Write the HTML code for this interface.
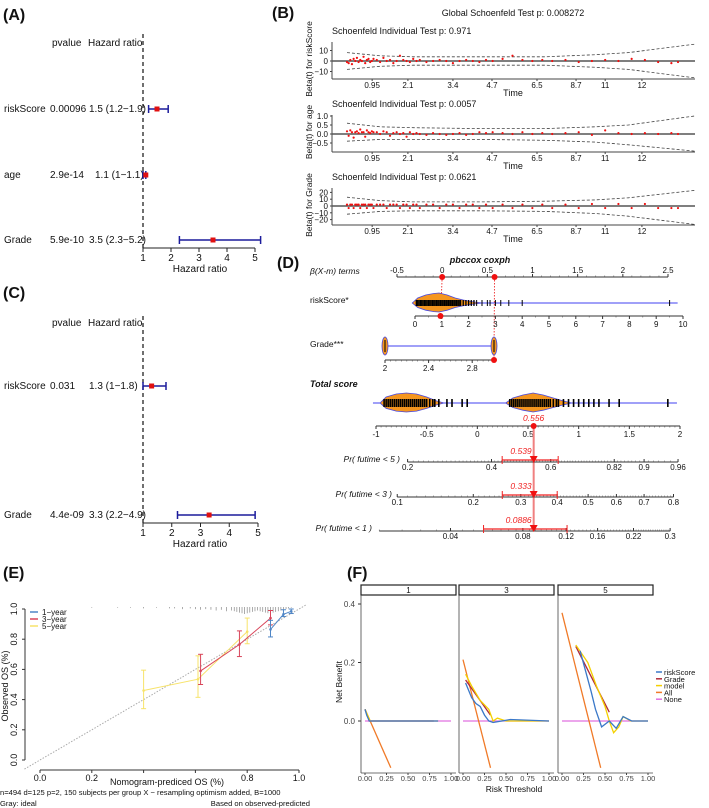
<!DOCTYPE html>
<html><head><meta charset="utf-8"><style>
html,body{margin:0;padding:0;background:#fff;}
svg{display:block;font-family:"Liberation Sans",Arial,sans-serif;}
</style></head><body>
<svg id="fig" width="709" height="808" viewBox="0 0 709 808" xmlns="http://www.w3.org/2000/svg"></svg>
<script>
// ---------- DATA ----------
// Panel A
const aVars=['riskScore','age','Grade'];
const aP=['0.00096','2.9e-14','5.9e-10'];
const aHRtxt=['1.5 (1.2\u22121.9)','1.1 (1\u22121.1)','3.5 (2.3\u22125.2)'];
const aHR=[1.5,1.1,3.5];
const aLo=[1.2,1.0,2.3];
const aHi=[1.9,1.1,5.2];
// Panel C
const cVars=['riskScore','Grade'];
const cP=['0.031','4.4e-09'];
const cHRtxt=['1.3 (1\u22121.8)','3.3 (2.2\u22124.9)'];
const cHR=[1.3,3.3];
const cLo=[1.0,2.2];
const cHi=[1.8,4.9];
const hrTicks=[1,2,3,4,5];
// Panel B
const bTickLabels=['0.95','2.1','3.4','4.7','6.5','8.7','11','12'];
const bTickRanks=[7.6,18.4,32,43.8,57.4,69.2,78,89.1];
const bRank=[0,0.5,1,1.5,2,2.5,3,3.5,4,4.5,5,5.5,6,6.5,7,7.5,8,9,10,11,12,13,14,15,16,17,18,19,20,21,22,24,26,28,30,32,34,36,38,40,42,44,47,50,53,56,59,62,66,70,74,78,82,86,90,94,98,100];
const b1Val=[-1,-2,1,-3,2,0,3,-1,1,0, 4,-2,1,2,-1,0,2,1,-1,3, 0,1,-2,0,5,1,0,-1,2,0, 1,-1,0,1,0,-2,0,1,0,-1, 1,0,2,5,1,0,1,0,1,-1, 0,1,0,2,1,-1,-2,-1];
const b2Val=[0.15,-0.1,0.2,0.1,-0.2,0.1,0.15,0.05,0.25,0.1, 0.1,-0.15,0.2,0.1,0.05,0.15,0.1,0.1,0.0,0.15, 0.1,-0.1,0.05,0.1,0.0,0.05,-0.15,0.1,0.0,0.05, 0.0,-0.05,0.05,0.0,-0.05,0.0,0.05,-0.05,0.0,0.1, 0.05,0.1,0.05,0.0,0.1,0.0,0.05,0.0,0.05,0.1, -0.05,0.2,0.05,0.0,0.05,0.0,0.05,0.0];
const b3Val=[2,-3,2,2,-3,2,2,2,-3,2, 2,2,-3,2,2,2,-3,2,2,2, -3,2,2,2,-3,2,2,-3,2,2, -3,2,2,-3,2,2,-3,2,2,-3, 2,-3,2,-3,2,-3,2,-3,2,-3, 3,-3,3,-3,3,-3,-3,-3];
const bandRank=[0,10,20,40,60,75,85,105];
const b1Up=[8,5,4,4,4,6,8,16], b1Lo=[-8,-5,-4,-4,-4,-6,-8,-16];
const b2Up=[0.6,0.4,0.35,0.3,0.3,0.4,0.5,1.0], b2Lo=[-0.4,-0.3,-0.3,-0.3,-0.35,-0.45,-0.6,-0.95];
const b3Up=[13,8,6,6,7,9,12,23], b3Lo=[-12,-8,-7,-7,-8,-11,-15,-27];
// Panel D
const betaPts=[0,0.58];
const rsGrid=[-0.1,0.1,0.4,0.7,0.9,1.2,1.5,1.8,2.1,2.5];
const rsDens=[0,5,8,9.5,10,8,5,3,1.5,0];
const rsRug=[0.05,0.1,0.15,0.2,0.25,0.3,0.35,0.4,0.45,0.5,0.55,0.6,0.65,0.7,0.75,0.8,0.85,0.9,0.95,1.0,1.05,1.1,1.15,1.2,1.25,1.3,1.35,1.4,1.45,1.5,1.55,1.6,1.65,1.7,1.8,1.9,2.0,2.1,2.2,2.3,2.5,2.7,2.8,3.0,3.2,3.5,4.0,9.5];
const t1Grid=[-0.96,-0.9,-0.8,-0.7,-0.6,-0.5,-0.45,-0.4,-0.33];
const t1Dens=[0,6,9,10,9,6,4,2,0];
const t2Grid=[0.28,0.35,0.45,0.55,0.65,0.75,0.85,0.93];
const t2Dens=[0,5,8,10,8,5,2,0];
const totRug=[-0.92,-0.9,-0.88,-0.86,-0.84,-0.82,-0.8,-0.78,-0.76,-0.74,-0.72,-0.7,-0.68,-0.66,-0.64,-0.62,-0.6,-0.58,-0.56,-0.54,-0.52,-0.5,-0.47,-0.44,-0.42,-0.38,-0.3,-0.25,-0.15,-0.1,0.32,0.34,0.36,0.38,0.4,0.42,0.44,0.46,0.48,0.5,0.52,0.54,0.56,0.58,0.6,0.62,0.64,0.66,0.68,0.7,0.72,0.75,0.78,0.8,0.85,0.9,0.95,1.0,1.05,1.1,1.15,1.2,1.3,1.4,1.88];
const totalScore=0.556;
const prNames=['Pr( futime < 5 )','Pr( futime < 3 )','Pr( futime < 1 )'];
const prValue=[0.539,0.333,0.0886];
const prValueTxt=['0.539','0.333','0.0886'];
const prCiLo=[0.433,0.257,0.055];
const prCiHi=[0.627,0.40,0.121];
const prTicks=[[0.2,0.4,0.6,0.82,0.9,0.96],[0.1,0.2,0.3,0.4,0.5,0.6,0.7,0.8],[0.04,0.08,0.12,0.16,0.22,0.3]];
const prRange=[[0.2,0.96],[0.1,0.8],[0.02,0.3]];
// Panel E
const eX1=[0.89,0.94,0.97], eY1=[0.865,0.965,0.985], eL1=[0.815,0.95,0.97], eH1=[0.925,0.995,1.0];
const eX3=[0.62,0.77,0.89], eY3=[0.59,0.765,0.94], eL3=[0.50,0.685,0.895], eH3=[0.70,0.855,0.99];
const eX5=[0.40,0.61,0.80], eY5=[0.46,0.535,0.85], eL5=[0.34,0.415,0.77], eH5=[0.595,0.69,0.94];
const eRug=[0.2,0.3,0.35,0.4,0.45,0.5,0.52,0.55,0.58,0.6,0.62,0.64,0.66,0.68,0.7,0.72,0.74,0.75,0.76,0.77,0.78,0.79,0.8,0.81,0.82,0.83,0.84,0.85,0.86,0.87,0.88,0.89,0.9,0.91,0.92,0.93,0.94,0.95,0.96,0.97];
const eRugH=[1,1,1,2,1,2,2,3,2,3,4,3,4,5,4,6,5,6,7,8,9,10,9,8,7,6,5,6,7,8,9,10,8,7,6,5,4,3,2,1];
const eXTicks=[0,0.2,0.4,0.6,0.8,1];
const eXLabels=['0.0','0.2','','','0.8','1.0'];
// Panel F
const fFacets=['1','3','5'];
const fAllT=[[0,0.3],[0,0.32],[0,0.45]];
const fAllV=[[0.04,-0.16],[0.21,-0.16],[0.37,-0.16]];
const fRiskT=[[0,0.02,0.05,0.1,0.85],[0.03,0.1,0.15,0.2,0.25,0.3,0.35,0.45,0.55,1.0],[0.21,0.34,0.34,0.39,0.46,0.55,0.63,0.71,0.81,1.0]];
const fRiskV=[[0.04,0.02,0.0,0.0,0.0],[0.13,0.08,0.06,0.05,0.02,0.0,-0.005,0.0,0.005,0.0],[0.24,0.1,0.1,0.04,-0.02,0.0,-0.025,0.015,0.0,0.0]];
const fGradeT=[[0,0.05,0.1,0.8],[0.03,0.32],[0.16,0.55]];
const fGradeV=[[0.04,0.0,0.0,0.0],[0.14,0.02],[0.255,0.03]];
const fModelT=[[0,0.03,0.06,0.1,0.85],[0.03,0.1,0.2,0.3,0.35,0.4,0.5,1.0],[0.16,0.3,0.4,0.5,0.55,0.6,0.66,0.71,0.8,1.0]];
const fModelV=[[0.04,0.02,0.0,0.0,0.0],[0.16,0.12,0.07,0.04,0.0,0.01,0.0,0.0],[0.26,0.2,0.12,0.05,0.0,-0.04,-0.02,0.015,0.0,0.0]];
const fXTicks=[0,0.25,0.5,0.75,1];
const fXLabels=['0.00','0.25','0.50','0.75','1.00'];
const fYTicks=[0.0,0.2,0.4];

// ---------- HELPERS ----------
const NS='http://www.w3.org/2000/svg';
const svg=document.getElementById('fig');
function el(tag,attrs,name){
  const e=document.createElementNS(NS,tag);
  for(const k in attrs) e.setAttribute(k,attrs[k]);
  
  
  svg.appendChild(e); return e;
}
function T(x,y,s,name,o){const e=el('text',Object.assign({x:x,y:y,'font-size':9,fill:'#111'},o||{}),name);e.textContent=s;return e;}
function L(x1,y1,x2,y2,name,o){return el('line',Object.assign({x1:x1,y1:y1,x2:x2,y2:y2,stroke:'#222','stroke-width':1},o||{}),name);}
function P(pts,name,o){return el('polyline',Object.assign({points:pts.map(p=>p[0].toFixed(1)+','+p[1].toFixed(1)).join(' '),fill:'none',stroke:'#222','stroke-width':1},o||{}),name);}

// panel letters
[['(A)',3,20],['(B)',272,18],['(C)',3,298],['(D)',277,268],['(E)',3,578],['(F)',347,578]].forEach(l=>T(l[1],l[2],l[0],'panel-label',{'font-size':16,'font-weight':'bold'}));

// ---------- FOREST PLOTS ----------
function forest(vars,pv,hrt,hr,lo,hi,rows,top,axisY,hdrY,prefix,x1){
  const xs=v=>143+(v-1)*(x1-143)/4;
  T(52,hdrY,'pvalue',prefix+'-header-pvalue',{'font-size':10});
  T(88,hdrY,'Hazard ratio',prefix+'-header-hr',{'font-size':10});
  L(143,top,143,axisY,prefix+'-reference-line',{'stroke-dasharray':'4,3','stroke-width':1.3});
  vars.forEach((v,i)=>{
    const y=rows[i];
    T(4,y+3,v,prefix+'-variable-label',{'font-size':10});
    T(50,y+3,pv[i],prefix+'-pvalue',{'font-size':10});
    T(i===1&&vars.length===3?95:89,y+3,hrt[i],prefix+'-hr-text',{'font-size':10});
    L(xs(lo[i]),y,xs(hi[i]),y,prefix+'-ci-line',{stroke:'#1c1c9c','stroke-width':1.5});
    L(xs(lo[i]),y-4,xs(lo[i]),y+4,prefix+'-ci-cap',{stroke:'#1c1c9c','stroke-width':1.5});
    L(xs(hi[i]),y-4,xs(hi[i]),y+4,prefix+'-ci-cap',{stroke:'#1c1c9c','stroke-width':1.5});
    el('rect',{x:xs(hr[i])-2.5,y:y-2.5,width:5,height:5,fill:'#e01010'},prefix+'-hr-point');
  });
  L(143,axisY,xs(5),axisY,prefix+'-x-axis');
  hrTicks.forEach(t=>{L(xs(t),axisY,xs(t),axisY+4,prefix+'-x-tick');T(xs(t),axisY+13,String(t),prefix+'-x-tick-label',{'font-size':10,'text-anchor':'middle'});});
  T(200,axisY+24,'Hazard ratio',prefix+'-x-axis-title',{'font-size':10,'text-anchor':'middle'});
}
forest(aVars,aP,aHRtxt,aHR,aLo,aHi,[109,175,240],34,248,46,'forest-a',255);
forest(cVars,cP,cHRtxt,cHR,cLo,cHi,[386,515],316,523,326,'forest-c',258);

// ---------- PANEL B ----------
T(513,16,'Global Schoenfeld Test p: 0.008272','schoenfeld-global-title',{'font-size':9,'text-anchor':'middle'});
const bx=r=>347+r*(678-347)/100;
function schoen(title,axisY,zeroY,ppu,yt,ytl,vals,up,lo,ylab,name){
  const yy=v=>zeroY-v*ppu;
  const topY=axisY-37;
  T(332,axisY-45,title,name+'-title',{'font-size':9});
  L(332,topY,332,axisY,name+'-y-axis',{stroke:'#444'});
  L(332,axisY,695,axisY,name+'-x-axis',{stroke:'#444'});
  L(332,zeroY,695,zeroY,name+'-fit-line',{stroke:'#555','stroke-width':1.5});
  P(bandRank.map((r,i)=>[bx(r),yy(up[i])]),name+'-upper-band',{stroke:'#444','stroke-dasharray':'3,2','stroke-width':0.8});
  P(bandRank.map((r,i)=>[bx(r),yy(lo[i])]),name+'-lower-band',{stroke:'#444','stroke-dasharray':'3,2','stroke-width':0.8});
  bRank.forEach((r,i)=>el('circle',{cx:bx(r),cy:yy(vals[i]),r:1.1,fill:'#f01010'},name+'-residual-point'));
  yt.forEach((v,i)=>{L(330,yy(v),332,yy(v),name+'-y-tick',{stroke:'#444'});T(328,yy(v)+3,ytl[i],name+'-y-tick-label',{'font-size':8,'text-anchor':'end'});});
  bTickRanks.forEach((r,i)=>{L(bx(r),axisY,bx(r),axisY+2,name+'-x-tick',{stroke:'#444'});T(bx(r),axisY+9,bTickLabels[i],name+'-x-tick-label',{'font-size':8,'text-anchor':'middle'});});
  T(513,axisY+17,'Time',name+'-x-axis-title',{'font-size':9,'text-anchor':'middle'});
  T(0,0,ylab,name+'-y-axis-title',{'font-size':8.5,'text-anchor':'middle',transform:'translate(312,'+(axisY-20)+') rotate(-90)'});
}
schoen('Schoenfeld Individual Test p: 0.971',79,61,1.05,[10,0,-10],['10','0','\u221210'],b1Val,b1Up,b1Lo,'Beta(t) for riskScore','schoenfeld-riskscore');
schoen('Schoenfeld Individual Test p: 0.0057',152,134,18,[1,0.5,0,-0.5],['1.0','0.5','0.0','\u22120.5'],b2Val,b2Up,b2Lo,'Beta(t) for age','schoenfeld-age');
schoen('Schoenfeld Individual Test p: 0.0621',225,206,0.68,[20,10,0,-10,-20],['20','10','0','\u221210','\u221220'],b3Val,b3Up,b3Lo,'Beta(t) for Grade','schoenfeld-grade');

// ---------- PANEL D ----------
function axisH(y,x0,x1,v0,v1,ticks,labels,minor,name,labelAbove){
  const s=v=>x0+(v-v0)*(x1-x0)/(v1-v0);
  L(x0,y,x1,y,name+'-line',{stroke:'#333'});
  const d=labelAbove?-1:1;
  for(let v=v0;v<=v1+1e-9;v+=minor) L(s(v),y,s(v),y+1.5*d,name+'-minor-tick',{stroke:'#555','stroke-width':0.6});
  ticks.forEach((t,i)=>{L(s(t),y,s(t),y+3*d,name+'-tick',{stroke:'#333'});T(s(t),labelAbove?y-4:y+11,labels[i],name+'-tick-label',{'font-size':8,'text-anchor':'middle'});});
  return s;
}
T(310,274,'\u03b2(X-m) terms','nomogram-beta-label',{'font-size':8.5,'font-style':'italic'});
T(480,263,'pbccox coxph','nomogram-title',{'font-size':9,'font-weight':'bold','font-style':'italic','text-anchor':'middle'});
const sb=axisH(277,397,668,-0.5,2.5,[-0.5,0,0.5,1,1.5,2,2.5],['-0.5','0','0.5','1','1.5','2','2.5'],0.1,'beta-axis',true);
const srs=v=>415+v*26.8, sg=v=>385+(v-2)*109, st=v=>376+(v+1)*101.33;
// dotted red guides
L(sb(betaPts[0]),277,srs(0.95),316,'guide-line-riskscore',{stroke:'#f04040','stroke-dasharray':'1.5,1.5'});
L(sb(betaPts[1]),277,sg(3),360,'guide-line-grade',{stroke:'#f04040','stroke-dasharray':'1.5,1.5'});
function violin(grid,dens,sx,cy,name){
  const top=grid.map((g,i)=>[sx(g),cy-dens[i]]), bot=grid.map((g,i)=>[sx(g),cy+dens[i]*0.9]).reverse();
  el('polygon',{points:top.concat(bot).map(p=>p[0].toFixed(1)+','+p[1].toFixed(1)).join(' '),fill:'#f5961e',stroke:'#4848e0','stroke-width':0.8},name);
}
T(310,303,'riskScore*','nomogram-riskscore-label',{'font-size':8.5});
L(srs(-0.1),303,srs(9.8),303,'riskscore-range-line',{stroke:'#4040f0'});
violin(rsGrid,rsDens,srs,303,'riskscore-violin');
rsRug.forEach(v=>L(srs(v),300,srs(v),306,'riskscore-rug',{stroke:'#000','stroke-width':v<2.3?1.3:1}));
axisH(316,415,683,0,10,[0,1,2,3,4,5,6,7,8,9,10],['0','1','2','3','4','5','6','7','8','9','10'],0.5,'riskscore-axis');
el('circle',{cx:srs(0.95),cy:316,r:3,fill:'#f01010'},'riskscore-point');
betaPts.forEach(b=>el('circle',{cx:sb(b),cy:277,r:3,fill:'#f01010'},'beta-point'));
T(310,347,'Grade***','nomogram-grade-label',{'font-size':8.5});
L(sg(2),346,sg(3),346,'grade-range-line',{stroke:'#4040f0'});
[2,3].forEach(g=>{el('ellipse',{cx:sg(g),cy:346,rx:3,ry:9,fill:'#f5961e',stroke:'#4848e0','stroke-width':0.8},'grade-violin');L(sg(g),340,sg(g),352,'grade-rug',{stroke:'#000'});});
axisH(360,385,494,2,3,[2,2.4,2.8],['2','2.4','2.8'],0.05,'grade-axis');
el('circle',{cx:sg(3),cy:360,r:3,fill:'#f01010'},'grade-point');
T(310,387,'Total score','nomogram-total-label',{'font-size':9,'font-weight':'bold','font-style':'italic'});
L(st(-1.03),403,st(1.97),403,'total-range-line',{stroke:'#4040f0'});
violin(t1Grid,t1Dens,st,403,'total-violin-low');
violin(t2Grid,t2Dens,st,403,'total-violin-high');
totRug.forEach(v=>L(st(v),399,st(v),407,'total-rug',{stroke:'#000','stroke-width':1.6}));
axisH(426,376,680,-1,2,[-1,-0.5,0,0.5,1,1.5,2],['-1','-0.5','0','0.5','1','1.5','2'],0.05,'total-axis');
const prY=[462,497,531], prLabX=[400,392,372];
// probability axes via survival model: Pr = 1 - S0^exp(lp)
const lnS0=prValue.map(p=>Math.log(1-p)/Math.exp(totalScore));
const prLp=(k,p)=>Math.log(Math.log(1-p)/lnS0[k]);
L(st(totalScore),426,st(totalScore),prY[2],'total-drop-line',{stroke:'#f08080','stroke-width':2});
prNames.forEach((n,k)=>{
  const y=prY[k], sx=p=>st(prLp(k,p));
  T(prLabX[k],y,n,'prob-axis-label',{'font-size':8.5,'font-style':'italic','text-anchor':'end'});
  L(sx(prRange[k][0]),y,sx(prRange[k][1]),y,'prob-axis-line',{stroke:'#333'});
  const step=k===2?0.005:0.01;
  for(let p=prRange[k][0];p<=prRange[k][1]+1e-9;p+=step) L(sx(p),y,sx(p),y-1.5,'prob-minor-tick',{stroke:'#555','stroke-width':0.5});
  prTicks[k].forEach(t=>{L(sx(t),y,sx(t),y-3,'prob-tick',{stroke:'#333'});T(sx(t),y+8,String(t),'prob-tick-label',{'font-size':8,'text-anchor':'middle'});});
  L(sx(prCiLo[k]),y-2,sx(prCiHi[k]),y-2,'prob-ci-line',{stroke:'#f02020','stroke-width':1.2});
  L(sx(prCiLo[k]),y-6,sx(prCiLo[k]),y+2,'prob-ci-cap',{stroke:'#f02020'});
  L(sx(prCiHi[k]),y-6,sx(prCiHi[k]),y+2,'prob-ci-cap',{stroke:'#f02020'});
  const cx=sx(prValue[k]);
  const m=el('polygon',{points:(cx-4)+','+(y-6)+' '+(cx+4)+','+(y-6)+' '+cx+','+(y+1)},'prob-marker');
  m.setAttribute('fill','#f01010');
  T(cx-2,y-8,prValueTxt[k],'prob-value-label',{'font-size':8.5,'font-style':'italic',fill:'#f02020','text-anchor':'end'});
});
el('circle',{cx:st(totalScore),cy:426,r:3,fill:'#f01010'},'total-point');
T(st(totalScore),421,'0.556','total-value-label',{'font-size':8.5,'font-style':'italic',fill:'#f02020','text-anchor':'middle'});

// ---------- PANEL E ----------
const ex=v=>40+v*259, ey=v=>760-v*151;
L(25,ey(0),25,ey(1),'calibration-y-axis',{stroke:'#333'});
L(ex(0),770,ex(1),770,'calibration-x-axis',{stroke:'#333'});
[0,0.2,0.4,0.6,0.8,1].forEach(v=>{
  L(22,ey(v),25,ey(v),'calibration-y-tick',{stroke:'#333'});
  T(0,0,v.toFixed(1),'calibration-y-tick-label',{'font-size':9,'text-anchor':'middle',transform:'translate(17,'+ey(v)+') rotate(-90)'});
});
eXTicks.forEach((v,i)=>{
  L(ex(v),770,ex(v),773,'calibration-x-tick',{stroke:'#333'});
  if(eXLabels[i]) T(ex(v),781,eXLabels[i],'calibration-x-tick-label',{'font-size':9,'text-anchor':'middle'});
});
T(0,0,'Observed OS (%)','calibration-y-axis-title',{'font-size':9,'text-anchor':'middle',transform:'translate(8,686) rotate(-90)'});
T(167,785,'Nomogram-prediced OS (%)','calibration-x-axis-title',{'font-size':9,'text-anchor':'middle'});
L(ex(-0.06),ey(-0.06),ex(1.03),ey(1.03),'ideal-line',{stroke:'#aaa','stroke-dasharray':'1.5,1.5'});
eRug.forEach((v,i)=>L(ex(v),607,ex(v),607+eRugH[i]*0.7,'calibration-rug',{stroke:'#888','stroke-width':0.7}));
function cal(xs,ys,los,his,col,name){
  P(xs.map((x,i)=>[ex(x),ey(ys[i])]),name+'-line',{stroke:col,'stroke-width':1});
  xs.forEach((x,i)=>{
    L(ex(x),ey(los[i]),ex(x),ey(his[i]),name+'-errorbar',{stroke:col});
    L(ex(x)-2.5,ey(los[i]),ex(x)+2.5,ey(los[i]),name+'-errorbar-cap',{stroke:col});
    L(ex(x)-2.5,ey(his[i]),ex(x)+2.5,ey(his[i]),name+'-errorbar-cap',{stroke:col});
    el('circle',{cx:ex(x),cy:ey(ys[i]),r:1.3,fill:col},name+'-point');
  });
}
cal(eX5,eY5,eL5,eH5,'#f7e36a','calibration-5year');
cal(eX3,eY3,eL3,eH3,'#d8455a','calibration-3year');
cal(eX1,eY1,eL1,eH1,'#4f86c6','calibration-1year');
[['1\u2212year','#4f86c6'],['3\u2212year','#d8455a'],['5\u2212year','#f7e36a']].forEach((l,i)=>{
  L(30,612+i*7,38,612+i*7,'calibration-legend-key',{stroke:l[1],'stroke-width':1.5});
  T(0,0,l[0],'calibration-legend-label',{'font-size':8,transform:'translate(42,'+(615+i*7)+')'});
});
T(0,795,'n=494 d=125 p=2, 150 subjects per group X \u2212 resampling optimism added, B=1000','calibration-footnote',{'font-size':7.6});
T(0,806,'Gray: ideal','calibration-footnote-gray',{'font-size':7.6});
T(310,806,'Based on observed-predicted','calibration-footnote-based',{'font-size':7.6,'text-anchor':'end'});

// ---------- PANEL F ----------
const fy=v=>721-v*292.5;
const fLeft=[361,459,558];
T(0,0,'Net Benefit','dca-y-axis-title',{'font-size':8.5,'text-anchor':'middle',transform:'translate(342,682) rotate(-90)'});
fYTicks.forEach(v=>{L(358,fy(v),361,fy(v),'dca-y-tick',{stroke:'#333'});T(355,fy(v)+3,v.toFixed(1),'dca-y-tick-label',{'font-size':8,'text-anchor':'end',fill:'#444'});});
fFacets.forEach((f,k)=>{
  const x0=fLeft[k], fx=t=>x0+4+t*86;
  el('rect',{x:x0,y:585,width:95,height:10,fill:'#fff',stroke:'#222','stroke-width':1.2},'dca-facet-strip');
  T(x0+47.5,593,f,'dca-facet-label',{'font-size':8,'text-anchor':'middle'});
  L(x0,595,x0,773,'dca-panel-left-axis',{stroke:'#444','stroke-width':0.8});
  L(x0,773,x0+95,773,'dca-panel-bottom-axis',{stroke:'#444','stroke-width':0.8});
  fXTicks.forEach((t,i)=>{L(fx(t),773,fx(t),775,'dca-x-tick',{stroke:'#444'});T(fx(t),781,fXLabels[i],'dca-x-tick-label',{'font-size':7.5,'text-anchor':'middle',fill:'#444'});});
  L(fx(0),fy(0),fx(1),fy(0),'dca-none-line',{stroke:'#e070e0','stroke-width':1.3});
  P(fAllT[k].map((t,i)=>[fx(t),fy(fAllV[k][i])]),'dca-all-line',{stroke:'#f07a28','stroke-width':1.3});
  P(fGradeT[k].map((t,i)=>[fx(t),fy(fGradeV[k][i])]),'dca-grade-line',{stroke:'#b02a3a','stroke-width':1.3});
  P(fModelT[k].map((t,i)=>[fx(t),fy(fModelV[k][i])]),'dca-model-line',{stroke:'#f4d000','stroke-width':1.3});
  P(fRiskT[k].map((t,i)=>[fx(t),fy(fRiskV[k][i])]),'dca-riskscore-line',{stroke:'#3a78c8','stroke-width':1.3});
});
T(514,792,'Risk Threshold','dca-x-axis-title',{'font-size':8.5,'text-anchor':'middle'});
[['riskScore','#3a78c8'],['Grade','#b02a3a'],['model','#f4d000'],['All','#f07a28'],['None','#e070e0']].forEach((l,i)=>{
  L(656,672+i*6.8,662,672+i*6.8,'dca-legend-key',{stroke:l[1],'stroke-width':1.5});
  T(664,675+i*6.8,l[0],'dca-legend-label',{'font-size':7.5});
});
</script>
</body></html>
